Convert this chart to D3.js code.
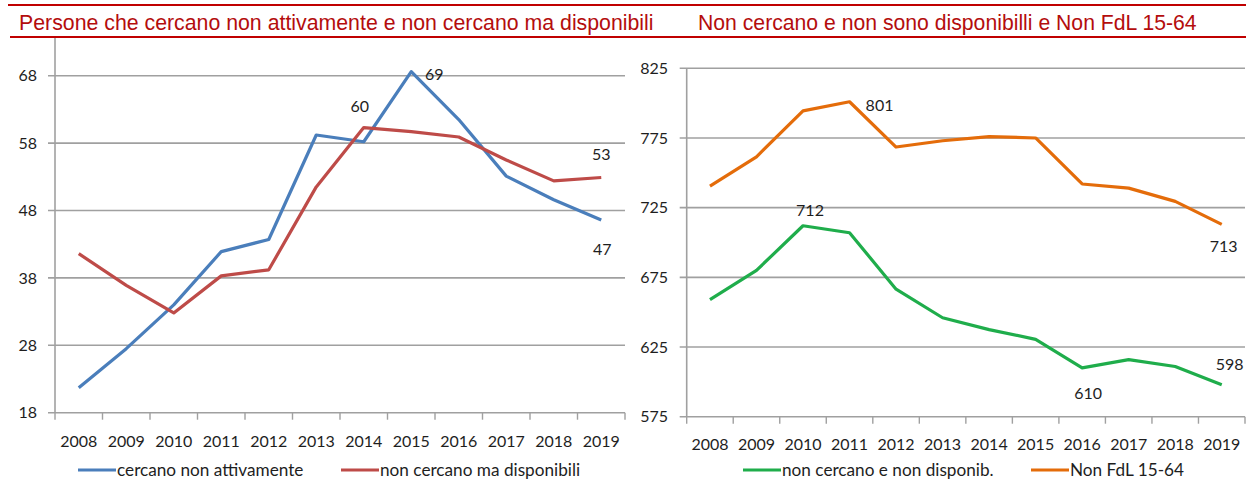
<!DOCTYPE html>
<html>
<head>
<meta charset="utf-8">
<script src="https://cdn.jsdelivr.net/npm/d3@7"></script>
<style>
  body { margin: 0; background: #fff; }
  svg { display: block; }
  .tick-label { font-family: Lato, "Open Sans", sans-serif; font-size: 16px; fill: #1e1e1e; }
  .legend-label { font-family: Lato, "Open Sans", sans-serif; font-size: 17.2px; fill: #1e1e1e; }
</style>
</head>
<body>
<div id="chart"></div>
<script>
const WIDTH = 1246
const HEIGHT = 479

// data
const years = ['2008', '2009', '2010', '2011', '2012', '2013', '2014', '2015', '2016', '2017', '2018', '2019']
const cercanoNonAttivamente = [21.7, 27.5, 34, 41.9, 43.7, 59.2, 58.2, 68.6, 61.5, 53.1, 49.6, 46.6]
const nonCercanoMaDisponibili = [41.6, 36.9, 32.8, 38.3, 39.2, 51.5, 60.3, 59.7, 58.9, 55.5, 52.4, 52.9]
const nonCercanoNonDisponib = [659, 680, 712, 707, 666.5, 646, 637.5, 630.5, 610, 616, 611, 598]
const nonFdL = [740.5, 761.5, 794.5, 801, 768.5, 773, 776, 775, 742, 739, 729.5, 713]
const leftTicks = [18, 28, 38, 48, 58, 68]
const rightTicks = [575, 625, 675, 725, 775, 825]

const TITLE_RED = '#b40d0d'
const GRID = '#a0a0a0'

const svg = d3.select('#chart').append('svg')
  .attr('width', WIDTH)
  .attr('height', HEIGHT)

// header band with the two titles
svg.append('line')
  .attr('x1', 8).attr('x2', WIDTH).attr('y1', 5).attr('y2', 5)
  .attr('stroke', '#c00000').attr('stroke-width', 2)
svg.append('line')
  .attr('x1', 10).attr('x2', WIDTH).attr('y1', 37).attr('y2', 37)
  .attr('stroke', '#c00000').attr('stroke-width', 2)

svg.append('text')
  .attr('x', 19).attr('y', 30)
  .attr('font-family', 'Liberation Sans, Arial, sans-serif')
  .attr('font-size', 21.3)
  .attr('fill', TITLE_RED)
  .text('Persone che cercano non attivamente e non cercano ma disponibili')
svg.append('text')
  .attr('x', 698).attr('y', 30)
  .attr('font-family', 'Liberation Sans, Arial, sans-serif')
  .attr('font-size', 21.2)
  .attr('fill', TITLE_RED)
  .text('Non cercano e non sono disponibilli e Non FdL 15-64')

function drawPanel(cfg) {
  const g = svg.append('g')

  const x = d3.scaleBand()
    .domain(years)
    .range([cfg.x0, cfg.x1])

  const y = d3.scaleLinear()
    .domain(d3.extent(cfg.ticks))
    .range([cfg.yBottom, cfg.yTop])

  // horizontal grid
  g.selectAll('.grid')
    .data(cfg.ticks.slice(1))
    .enter().append('line')
    .attr('x1', cfg.x0 - 7).attr('x2', cfg.x1)
    .attr('y1', d => y(d)).attr('y2', d => y(d))
    .attr('stroke', GRID).attr('stroke-width', 1.6)

  // y axis line
  g.append('line')
    .attr('x1', cfg.x0).attr('x2', cfg.x0)
    .attr('y1', cfg.axisTop).attr('y2', cfg.yBottom)
    .attr('stroke', GRID).attr('stroke-width', 1.6)

  // x axis line + ticks at band edges
  g.append('line')
    .attr('x1', cfg.x0 - 7).attr('x2', cfg.x1)
    .attr('y1', cfg.yBottom).attr('y2', cfg.yBottom)
    .attr('stroke', GRID).attr('stroke-width', 1.6)

  const edges = years.map(d => x(d)).concat([x(years[years.length - 1]) + x.bandwidth()])
  g.selectAll('.xtick')
    .data(edges)
    .enter().append('line')
    .attr('x1', d => d).attr('x2', d => d)
    .attr('y1', cfg.yBottom).attr('y2', cfg.yBottom + 7)
    .attr('stroke', GRID).attr('stroke-width', 1.4)

  // y labels
  g.selectAll('.ylab')
    .data(cfg.ticks)
    .enter().append('text')
    .attr('class', 'tick-label')
    .attr('x', cfg.yLabelX)
    .attr('y', d => y(d))
    .attr('dy', '0.36em')
    .attr('text-anchor', 'end')
    .text(d => d)

  // x labels
  g.selectAll('.xlab')
    .data(years)
    .enter().append('text')
    .attr('class', 'tick-label')
    .attr('x', d => x(d) + x.bandwidth() / 2)
    .attr('y', cfg.xLabelY)
    .attr('text-anchor', 'middle')
    .text(d => d)

  const line = d3.line()
    .x((d, i) => x(years[i]) + x.bandwidth() / 2)
    .y(d => y(d))

  cfg.series.forEach(s => {
    g.append('path')
      .datum(s.values)
      .attr('d', line)
      .attr('fill', 'none')
      .attr('stroke', s.color)
      .attr('stroke-width', 3.2)
      .attr('stroke-linejoin', 'round')
  })

  // point labels
  cfg.labels.forEach(l => {
    const s = cfg.series[l.s]
    const i = years.indexOf(l.year)
    g.append('text')
      .attr('class', 'tick-label')
      .attr('x', x(l.year) + x.bandwidth() / 2 + l.dx)
      .attr('y', y(s.values[i]) + l.dy)
      .attr('dy', '0.36em')
      .attr('text-anchor', 'middle')
      .text(Math.round(s.values[i]))
  })

  // legend
  cfg.series.forEach(s => {
    g.append('line')
      .attr('x1', s.legendX).attr('x2', s.legendX + 38)
      .attr('y1', 470).attr('y2', 470)
      .attr('stroke', s.color).attr('stroke-width', 3.2)
    g.append('text')
      .attr('class', 'legend-label')
      .attr('x', s.legendX + 39)
      .attr('y', 470)
      .attr('dy', '0.36em')
      .text(s.name)
  })
}

drawPanel({
  x0: 55, x1: 625, yTop: 75.7, yBottom: 412.7, axisTop: 38,
  yLabelX: 37, xLabelY: 447,
  ticks: leftTicks,
  series: [
    { name: 'cercano non attivamente', values: cercanoNonAttivamente, color: '#4a7ebb', legendX: 78 },
    { name: 'non cercano ma disponibili', values: nonCercanoMaDisponibili, color: '#be4b48', legendX: 341 }
  ],
  labels: [
    { s: 0, year: '2015', dx: 23, dy: 3 },
    { s: 1, year: '2014', dx: -4, dy: -21 },
    { s: 1, year: '2019', dx: 0, dy: -23 },
    { s: 0, year: '2019', dx: 1, dy: 29 }
  ]
})

drawPanel({
  x0: 686.7, x1: 1245, yTop: 68.3, yBottom: 416.7, axisTop: 68.3,
  yLabelX: 668, xLabelY: 450,
  ticks: rightTicks,
  series: [
    { name: 'non cercano e non disponib.', values: nonCercanoNonDisponib, color: '#1fad4b', legendX: 743 },
    { name: 'Non FdL 15-64', values: nonFdL, color: '#e46c0a', legendX: 1031 }
  ],
  labels: [
    { s: 1, year: '2011', dx: 30, dy: 3 },
    { s: 0, year: '2010', dx: 7, dy: -16 },
    { s: 1, year: '2019', dx: 2, dy: 22 },
    { s: 0, year: '2019', dx: 8, dy: -20 },
    { s: 0, year: '2016', dx: 6, dy: 25 }
  ]
})
</script>
</body>
</html>
